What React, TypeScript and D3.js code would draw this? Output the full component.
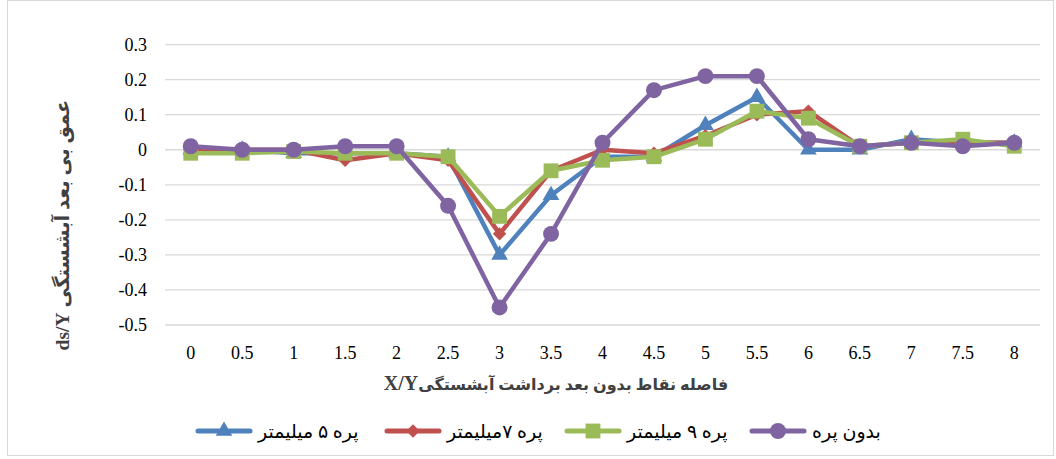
import React from "react";
import * as d3 from "d3";

// x positions (dimensionless distance X/Y)
const xCategories = ["0", "0.5", "1", "1.5", "2", "2.5", "3", "3.5", "4", "4.5", "5", "5.5", "6", "6.5", "7", "7.5", "8"];

// ds/Y for each case
const vane5mm = [0, 0, -0.01, -0.01, -0.01, -0.02, -0.3, -0.13, -0.02, -0.02, 0.07, 0.15, 0, 0, 0.03, 0.02, 0.02];
const vane7mm = [0, 0, 0, -0.03, -0.01, -0.03, -0.24, -0.06, 0, -0.01, 0.04, 0.1, 0.11, 0.01, 0.02, 0.02, 0.02];
const vane9mm = [-0.01, -0.01, -0.005, -0.01, -0.01, -0.02, -0.19, -0.06, -0.03, -0.02, 0.03, 0.11, 0.09, 0.01, 0.02, 0.03, 0.01];
const noVane = [0.01, 0, 0, 0.01, 0.01, -0.16, -0.45, -0.24, 0.02, 0.17, 0.21, 0.21, 0.03, 0.01, 0.02, 0.01, 0.02];

const yTicks = [0.3, 0.2, 0.1, 0, -0.1, -0.2, -0.3, -0.4, -0.5];

const seriesNames = ["پره ۵ میلیمتر", "پره ۷میلیمتر", "پره ۹ میلیمتر", "بدون پره"];

const series = [
  { name: seriesNames[0], values: vane5mm, color: "#4f81bd", symbol: d3.symbolTriangle, size: 120, rotate: 0 },
  { name: seriesNames[1], values: vane7mm, color: "#c0504d", symbol: d3.symbolSquare, size: 90, rotate: 45 },
  { name: seriesNames[2], values: vane9mm, color: "#9bbb59", symbol: d3.symbolSquare, size: 220, rotate: 0 },
  { name: seriesNames[3], values: noVane, color: "#8064a2", symbol: d3.symbolCircle, size: 200, rotate: 0 },
];

const W = 1056, H = 459;
const font = "'Liberation Serif', 'Times New Roman', 'DejaVu Sans', serif";

// excel style numbers with a plain hyphen
const fmt = (t: number) => (t === 0 ? "0" : d3.format(".1f")(t).replace("\u2212", "-"));

export default function App() {
  const x = d3.scalePoint().domain(xCategories).range([165, 1040]).padding(0.5);
  const y = d3.scaleLinear().domain([-0.5, 0.3]).range([325, 44.6]);

  const line = d3
    .line<number>()
    .x((_, i) => x(xCategories[i]) as number)
    .y((d) => y(d));

  const legendX = [198, 387, 567, 752];

  return (
    <svg width={W} height={H} style={{ position: "absolute", left: 0, top: 0, background: "#fff" }}>
      <rect x={7.5} y={0.5} width={W - 10} height={H - 4} fill="#fff" stroke="#d9d9d9" />

      {/* gridlines */}
      {yTicks.map((t) => (
        <line key={t} x1={165} x2={1040} y1={y(t)} y2={y(t)} stroke="#d9d9d9" strokeWidth={1.3} />
      ))}

      {/* y tick labels */}
      {yTicks.map((t) => (
        <text key={t} x={147} y={y(t)} dy="0.35em" textAnchor="end" fontFamily={font} fontSize={18} fill="#000">
          {fmt(t)}
        </text>
      ))}

      {/* x tick labels */}
      {xCategories.map((c) => (
        <text key={c} x={x(c)} y={359} textAnchor="middle" fontFamily={font} fontSize={18} fill="#000">
          {c}
        </text>
      ))}

      {/* series */}
      {series.map((s) => (
        <g key={s.name}>
          <path d={line(s.values) || ""} fill="none" stroke={s.color} strokeWidth={4.5} strokeLinejoin="round" strokeLinecap="round" />
          {s.values.map((v, i) => (
            <path
              key={i}
              d={d3.symbol().type(s.symbol).size(s.size)() || ""}
              transform={`translate(${x(xCategories[i])},${y(v)}) rotate(${s.rotate})`}
              fill={s.color}
            />
          ))}
        </g>
      ))}

      {/* axis titles */}
      <text
        x={556}
        y={390}
        textAnchor="middle"
        direction="rtl"
        style={{ direction: "rtl" }}
        fontFamily={font}
        fontWeight="bold"
        fontSize={16}
        fill="#404040"
      >
        فاصله نقاط بدون بعد برداشت آبشستگی<tspan fontSize={20}>X/Y</tspan>
      </text>
      <text
        transform="translate(62,225) rotate(-90)"
        textAnchor="middle"
        direction="rtl"
        style={{ direction: "rtl" }}
        fontFamily={font}
        fontWeight="bold"
        fontSize={19.5}
        fill="#404040"
        dy="0.35em"
      >
        عمق بی بعد آبشستگی ds/Y
      </text>

      {/* legend */}
      {series.map((s, i) => (
        <g key={s.name} transform={`translate(${legendX[i]},431)`}>
          <line x1={0} x2={52} y1={0} y2={0} stroke={s.color} strokeWidth={5} strokeLinecap="round" />
          <path d={d3.symbol().type(s.symbol).size(s.size)() || ""} transform={`translate(26,0) rotate(${s.rotate})`} fill={s.color} />
          <text x={60} y={0} dy="0.35em" textAnchor="start" fontFamily={font} fontSize={19} fill="#000">
            {s.name}
          </text>
        </g>
      ))}
    </svg>
  );
}
